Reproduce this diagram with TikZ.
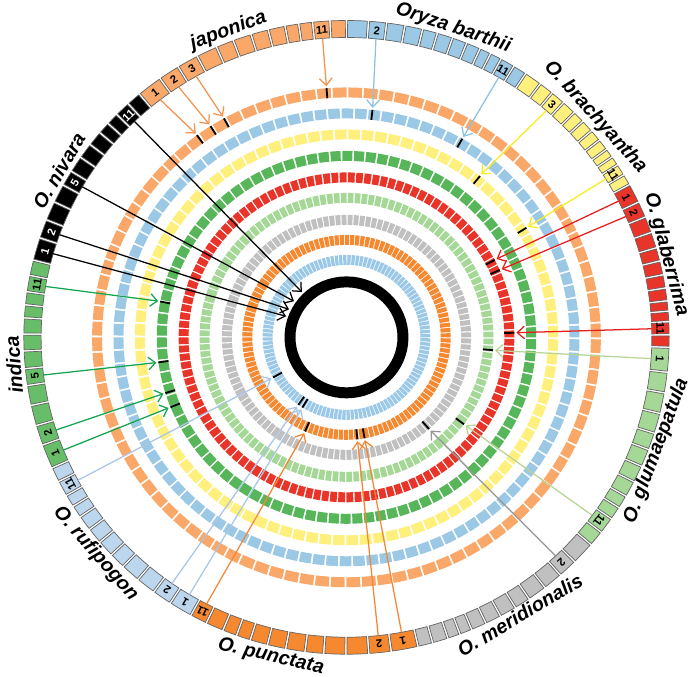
\documentclass[tikz,border=0pt]{standalone}
\usepackage{fontspec}
\setmainfont{Liberation Sans}
\usetikzlibrary{arrows.meta}

% fills of boxes and rings
\definecolor{japC}{RGB}{250,168,106}
\definecolor{barC}{RGB}{155,200,228}
\definecolor{braC}{RGB}{255,240,125}
\definecolor{glaC}{RGB}{233,52,42}
\definecolor{gluC}{RGB}{165,216,150}
\definecolor{merC}{RGB}{192,192,192}
\definecolor{punC}{RGB}{246,136,48}
\definecolor{rufC}{RGB}{188,214,238}
\definecolor{rufR}{RGB}{155,200,230}
\definecolor{indC}{RGB}{104,190,104}
\definecolor{indR}{RGB}{88,182,90}
\definecolor{boxline}{RGB}{100,100,100}
% arrow colours
\definecolor{japA}{RGB}{242,148,80}
\definecolor{barA}{RGB}{140,195,225}
\definecolor{braA}{RGB}{250,235,30}
\definecolor{glaA}{RGB}{232,30,30}
\definecolor{gluA}{RGB}{185,212,150}
\definecolor{merA}{RGB}{150,150,150}
\definecolor{punA}{RGB}{244,135,55}
\definecolor{rufA}{RGB}{170,198,230}
\definecolor{indA}{RGB}{20,165,80}

% outer ring of chromosomes: [text colour]{name}{start angle}{span}{fill}{box/label list}
\newcommand\chrring[6][black]{%
  \foreach \p/\q [count=\k] in {0/43.3,43.3/79.2,79.2/115.6,115.6/151.1,151.1/181.0,181.0/212.2,212.2/241.9,241.9/270.3,270.3/293.3,293.3/316.5,316.5/345.5,345.5/373}{
    \pgfmathsetmacro\angA{#3-#4*\p/373-0.2}
    \pgfmathsetmacro\angB{#3-#4*\q/373+0.2}
    \pgfmathsetmacro\angM{(\angA+\angB)/2}
    \draw[chrbox, fill=#5] (\angA:300) arc[start angle=\angA, end angle=\angB, radius=300]
      -- (\angB:317) arc[start angle=\angB, end angle=\angA, radius=317] -- cycle;
    \coordinate (#2-\k) at (\angM:300);
    \foreach \m/\lbl in {#6}{
      \ifnum\m=\k\relax
        \node[chrnum, text=#1, rotate=\angM-90] (#2-\k-n) at (\angM:308.5) {\lbl};
      \fi
    }
  }%
}

% black tick on a ring and the point an arrow ends at
\newcommand\hit[3]{%
  \draw[hitmark] ({#2}:{#3-5}) -- ({#2}:{#3+5});
  \coordinate (#1) at ({#2}:{#3+7});
}

\begin{document}
\begin{tikzpicture}[
    x=0.02545cm, y=0.025cm,
    ring/.style={line width=7.1pt},
    chrbox/.style={draw=boxline, line width=0.5pt},
    chrnum/.style={font=\bfseries\fontsize{8}{8}\selectfont, inner sep=0pt},
    splabel/.style={font=\bfseries\itshape\fontsize{14}{16}\selectfont, inner sep=0pt},
    hitmark/.style={black, line width=1.3pt},
    arr/.style={-{Straight Barb[length=5pt, width=9pt]}, line width=0.9pt}
]
    \useasboundingbox (-340.4,-339.5) rectangle (341.4,337.5);

    % inner rings
    \foreach \rad/\col/\cnt/\gap in {245/japC/100/1.3, 224/barC/106/1.3, 203/braC/96/1.3, 181.5/indR/98/1.2, 160/glaC/124/1.0, 139.5/gluC/128/0.9, 117.5/merC/124/0.8, 97.5/punC/122/0.7, 77.5/rufR/120/0.6}{
        \pgfmathsetmacro\dashlen{4.5096*\rad/\cnt-\gap}
        \draw[ring, \col, dash pattern=on \dashlen pt off \gap pt] (0,0) circle[radius=\rad];
    }
    \draw[ring, line width=7.8pt, black] (0,0) circle[radius=55.5];

    % hits
    \hit{h-jap-1}{126.0}{245}
    \hit{h-jap-2}{122.3}{245}
    \hit{h-jap-3}{118.8}{245}
    \hit{h-jap-11}{94.5}{245}
    \hit{h-bar-2}{83.6}{224}
    \hit{h-bar-11}{60.2}{224}
    \hit{h-bra-3}{50.9}{203}
    \hit{h-bra-11}{31.8}{203}
    \hit{h-gla-1}{28.0}{160}
    \hit{h-gla-2}{24.1}{160}
    \hit{h-gla-11}{1.6}{160}
    \hit{h-glu-1}{-5.1}{139.5}
    \hit{h-glu-11}{-37}{139.5}
    \hit{h-mer-2}{-48.5}{117.5}
    \hit{h-pun-1}{-80}{97.5}
    \hit{h-pun-2}{-84}{97.5}
    \hit{h-pun-12}{-113.4}{97.5}
    \hit{h-ruf-1}{-121.7}{77.5}
    \hit{h-ruf-2}{-125}{77.5}
    \hit{h-ruf-11}{-150.9}{77.5}
    \hit{h-ind-1}{-158}{181.5}
    \hit{h-ind-2}{-162.6}{181.5}
    \hit{h-ind-5}{-172.3}{181.5}
    \hit{h-ind-11}{168.9}{181.5}
    \coordinate (h-niv-1) at (160.4:63);
    \coordinate (h-niv-2) at (153.6:63);
    \coordinate (h-niv-5) at (145:63);
    \coordinate (h-niv-11) at (134:63);

    % outer ring
    \chrring{jap}{129.9}{39.9}{japC}{1/1,2/2,3/3,11/11}
    \chrring{bar}{90.0}{33.7}{barC}{2/2,11/11}
    \chrring{bra}{56.3}{27.5}{braC}{3/3,11/11}
    \chrring{gla}{28.8}{30.6}{glaC}{1/1,2/2,11/11}
    \chrring{glu}{-1.8}{39.0}{gluC}{1/1,11/11}
    \chrring{mer}{-40.8}{36.4}{merC}{2/2}
    \chrring{pun}{-77.2}{41.6}{punC}{1/1,2/2,12/11}
    \chrring{ruf}{-118.8}{36.9}{rufC}{1/1,2/2,11/11}
    \chrring{ind}{-155.7}{38.4}{indC}{1/1,2/2,5/5,11/11}
    \chrring[white]{niv}{-194.1}{36.0}{black}{1/1,2/2,5/5,11/11}

    % species names
    \node[splabel, rotate=20.7] (lab-jap) at (110.7:328) {japonica};
    \node[splabel, rotate=-18.7] (lab-bar) at (71.3:327) {Oryza barthii};
    \node[splabel, rotate=-48] (lab-bra) at (42:329) {O. brachyantha};
    \node[splabel, rotate=-75.2] (lab-gla) at (14.8:325) {O. glaberrima};
    \node[splabel, rotate=69.5] (lab-glu) at (-20.5:325) {O. glumaepatula};
    \node[splabel, rotate=31] (lab-mer) at (-58.5:326) {O. meridionalis};
    \node[splabel, rotate=-13.1] (lab-pun) at (-103.1:328) {O. punctata};
    \node[splabel, rotate=-48.7] (lab-ruf) at (-138.7:328) {O. rufipogon};
    \node[splabel, rotate=94.8] (lab-ind) at (184.8:328) {indica};
    \node[splabel, rotate=59.5] (lab-niv) at (149.5:328) {O. nivara};

    % arrows
    \foreach \k in {1,2,3,11} \draw[arr, japA] (jap-\k) -- (h-jap-\k);
    \foreach \k in {2,11} \draw[arr, barA] (bar-\k) -- (h-bar-\k);
    \foreach \k in {3,11} \draw[arr, braA] (bra-\k) -- (h-bra-\k);
    \foreach \k in {1,2,11} \draw[arr, glaA] (gla-\k) -- (h-gla-\k);
    \foreach \k in {1,11} \draw[arr, gluA] (glu-\k) -- (h-glu-\k);
    \draw[arr, merA] (mer-2) -- (h-mer-2);
    \foreach \k in {1,2,12} \draw[arr, punA] (pun-\k) -- (h-pun-\k);
    \foreach \k in {1,2,11} \draw[arr, rufA] (ruf-\k) -- (h-ruf-\k);
    \foreach \k in {1,2,5,11} \draw[arr, indA] (ind-\k) -- (h-ind-\k);
    \foreach \k in {1,2,5,11} \draw[arr, black] (niv-\k) -- (h-niv-\k);
\end{tikzpicture}
\end{document}
